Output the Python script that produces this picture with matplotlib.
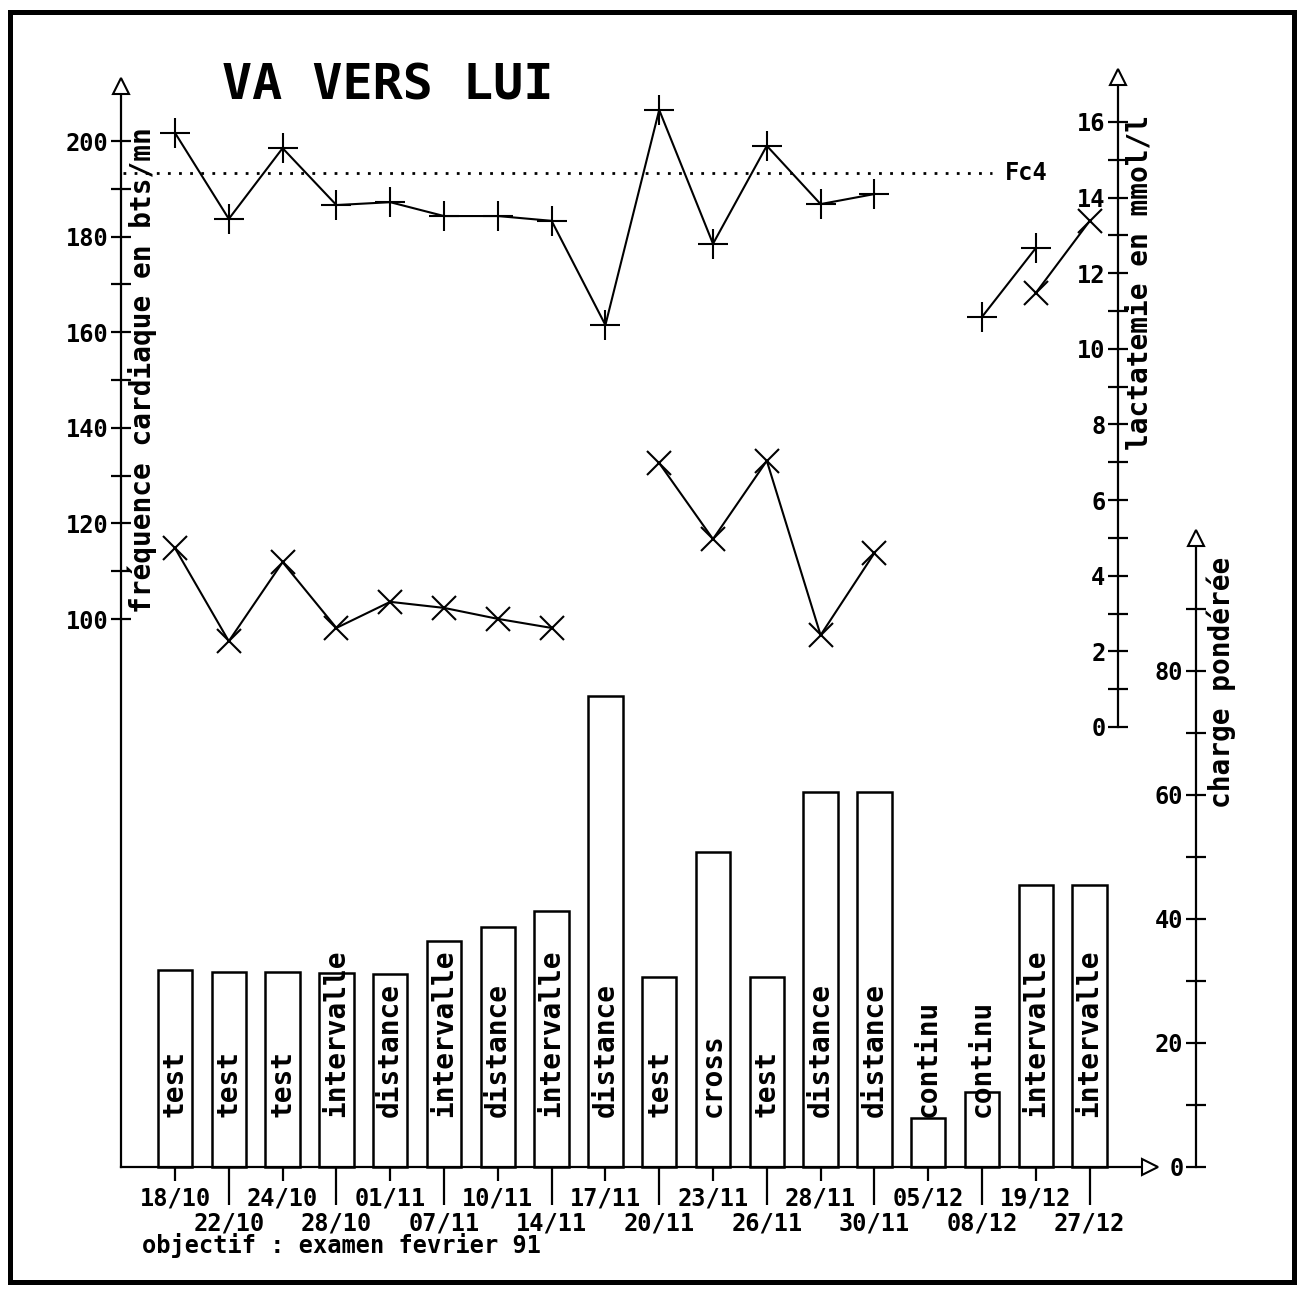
import numpy as np
import matplotlib
matplotlib.use('Agg')
import matplotlib.pyplot as plt
from matplotlib.patches import Rectangle

nan = np.nan

# ---------------- data ----------------
dates = ['18/10', '22/10', '24/10', '28/10', '01/11', '07/11', '10/11', '14/11', '17/11',
         '20/11', '23/11', '26/11', '28/11', '30/11', '05/12', '08/12', '19/12', '27/12']
seances = ['test', 'test', 'test', 'intervalle', 'distance', 'intervalle', 'distance',
           'intervalle', 'distance', 'test', 'cross', 'test', 'distance', 'distance',
           'continu', 'continu', 'intervalle', 'intervalle']
charge = [31.8, 31.5, 31.5, 31.3, 31.1, 36.5, 38.7, 41.3, 76.0,
          30.6, 50.8, 30.6, 60.5, 60.5, 7.9, 12.1, 45.5, 45.5]
freq_card = [201.7, 183.7, 198.5, 186.6, 187.2, 184.3, 184.3, 183.3, 161.5,
             206.5, 178.5, 199.0, 186.8, 188.9, nan, 163.2, 177.6, nan]
lactate = [4.73, 2.27, 4.36, 2.62, 3.31, 3.15, 2.86, 2.62, nan,
           6.98, 4.97, 7.04, 2.43, 4.60, nan, nan, 11.48, 13.38]
fc4 = 193.3
fc_ticks = [100, 120, 140, 160, 180, 200]
fc_minor = [110, 130, 150, 170, 190]
lac_ticks = [0, 2, 4, 6, 8, 10, 12, 14, 16]
lac_minor = [1, 3, 5, 7, 9, 11, 13, 15]
ch_ticks = [0, 20, 40, 60, 80]
ch_minor = [10, 30, 50, 70, 90]

title = 'VA VERS LUI'
label_fc = 'fréquence cardiaque en bts/mn'
label_lac = 'lactatemie en mmol/l'
label_ch = 'charge pondérée'
note = 'objectif : examen fevrier 91'

# ---------------- layout calibration (pixels) ----------------
W, H = 1303, 1295
X0, DX = 175.0, 53.8           # pixel x of first bar centre, spacing


def px2x(px):
    return (px - X0) / DX


def vlims(va, pa, vb, pb):
    k = (pb - pa) / (vb - va)
    return va + (H - pa) / k, va + (0 - pa) / k


def py2v(py, va, pa, vb, pb):
    k = (pb - pa) / (vb - va)
    return va + (py - pa) / k


HR_CAL = (100, 619, 200, 141)
LAC_CAL = (0, 727, 16, 122)
CH_CAL = (0, 1167, 80, 671)

plt.rcParams['font.family'] = ['DejaVu Sans Mono', 'DejaVu Sans']
plt.rcParams['font.weight'] = 'bold'

fig = plt.figure(figsize=(W / 100, H / 100), dpi=100)
fig.patch.set_facecolor('white')

ax_c = fig.add_axes([0, 0, 1, 1])
ax_h = fig.add_axes([0, 0, 1, 1])
ax_l = fig.add_axes([0, 0, 1, 1])
xl = (px2x(0), px2x(W))
for a in (ax_c, ax_h, ax_l):
    a.patch.set_visible(False)
    for s in a.spines.values():
        s.set_visible(False)
    a.set_xlim(*xl)

ax_c.set_ylim(*vlims(*CH_CAL))
ax_h.set_ylim(*vlims(*HR_CAL))
ax_l.set_ylim(*vlims(*LAC_CAL))

x = np.arange(len(dates))
LW = 1.6
TICKLEN = 14
TS = 17

# ----- charge axis & bars -----
ax_c.bar(x, charge, width=0.64, facecolor='white', edgecolor='black', linewidth=1.8, zorder=2)
for i, s in enumerate(seances):
    ax_c.text(i, 8.0, s, rotation=90, ha='center', va='bottom', fontsize=20,
              fontweight='bold', zorder=3)

sp = ax_c.spines['left']
sp.set_visible(True)
sp.set_position(('data', px2x(1196)))
sp.set_bounds(0, 100)
sp.set_linewidth(LW)
ax_c.yaxis.set_ticks_position('left')
ax_c.set_yticks(ch_ticks)
ax_c.set_yticks(ch_minor, minor=True)
ax_c.tick_params(axis='y', which='both', direction='inout', length=TICKLEN, width=LW,
                 pad=2, labelsize=TS)
ax_c.plot([px2x(1196)], [101.5], marker='^', ms=12, mfc='white', mec='black', mew=1.5,
          clip_on=False, zorder=6)

sb = ax_c.spines['bottom']
sb.set_visible(True)
sb.set_position(('data', 0))
sb.set_bounds(px2x(121), px2x(1146))
sb.set_linewidth(LW)
ax_c.xaxis.set_ticks_position('bottom')
ax_c.set_xticks(x[0::2], labels=dates[0::2])
ax_c.set_xticks(x[1::2], labels=dates[1::2], minor=True)
ax_c.tick_params(axis='x', which='major', direction='out', length=10, width=LW,
                 pad=4, labelsize=TS)
ax_c.tick_params(axis='x', which='minor', direction='out', length=27, width=LW,
                 pad=5, labelsize=TS)
ax_c.plot([px2x(1150)], [0], marker='>', ms=12, mfc='white', mec='black', mew=1.5,
          clip_on=False, zorder=6)

# ----- heart-rate axis -----
ax_h.set_xticks([])
sh = ax_h.spines['left']
sh.set_visible(True)
sh.set_position(('data', px2x(121)))
sh.set_bounds(py2v(1167, *HR_CAL), 210)
sh.set_linewidth(LW)
ax_h.yaxis.set_ticks_position('left')
ax_h.set_yticks(fc_ticks)
ax_h.set_yticks(fc_minor, minor=True)
ax_h.tick_params(axis='y', which='both', direction='inout', length=TICKLEN, width=LW,
                 pad=2, labelsize=TS)
ax_h.plot([px2x(121)], [211.5], marker='^', ms=12, mfc='white', mec='black', mew=1.5,
          clip_on=False, zorder=6)
ax_h.plot(x, freq_card, color='black', lw=1.5, marker='+', ms=21, mew=1.5, zorder=4)
ax_h.plot([px2x(123), px2x(992)], [fc4, fc4], color='black', lw=2,
          linestyle=(0, (1, 3)), zorder=3)
ax_h.text(px2x(1005), fc4, 'Fc4', ha='left', va='center', fontsize=TS, fontweight='bold')

# ----- lactate axis -----
ax_l.set_xticks([])
sl = ax_l.spines['left']
sl.set_visible(True)
sl.set_position(('data', px2x(1118)))
sl.set_bounds(0, 17.0)
sl.set_linewidth(LW)
ax_l.yaxis.set_ticks_position('left')
ax_l.set_yticks(lac_ticks)
ax_l.set_yticks(lac_minor, minor=True)
ax_l.tick_params(axis='y', which='both', direction='inout', length=TICKLEN, width=LW,
                 pad=2, labelsize=TS)
ax_l.plot([px2x(1118)], [17.2], marker='^', ms=12, mfc='white', mec='black', mew=1.5,
          clip_on=False, zorder=6)
ax_l.plot(x, lactate, color='black', lw=1.5, marker='x', ms=17, mew=1.5, zorder=4)

# ----- texts -----
fig.text(222 / W, 1 - 86 / H, title, ha='left', va='center', fontsize=36, fontweight='bold')
fig.text(151 / W, 1 - 370 / H, label_fc, rotation=90, rotation_mode='anchor',
         ha='center', va='baseline', fontsize=20, fontweight='bold')
fig.text(1148 / W, 1 - 282 / H, label_lac, rotation=90, rotation_mode='anchor',
         ha='center', va='baseline', fontsize=20, fontweight='bold')
fig.text(1230 / W, 1 - 682 / H, label_ch, rotation=90, rotation_mode='anchor',
         ha='center', va='baseline', fontsize=20, fontweight='bold')
fig.text(142 / W, 1 - 1246 / H, note, ha='left', va='center', fontsize=TS, fontweight='bold')

# frame
fig.add_artist(Rectangle((10 / W, 1 - 1282 / H), (1294 - 10) / W, (1282 - 12) / H,
                         transform=fig.transFigure, fill=False, lw=3.6, ec='black'))

fig.savefig('out.png', dpi=100, facecolor='white')
